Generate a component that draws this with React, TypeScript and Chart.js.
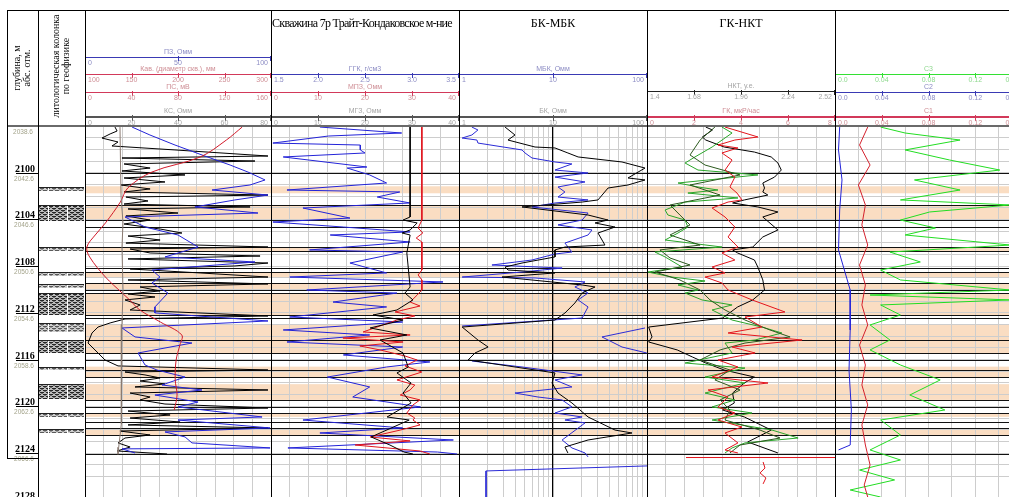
import React, { useEffect, useRef } from 'react';
import { Chart, registerables } from 'chart.js';

Chart.register(...registerables);

type Pt = [number, number] | null;

// depth window, metres
const depthTop = 2096;
const depthBottom = 2127.76;

// depth column labels
const depthMarks = [2100, 2104, 2108, 2112, 2116, 2120, 2124, 2128];
const absMarks = ['2042.6', '2046.6', '2050.6', '2054.6', '2058.6', '2062.6', '2066.6', '2070.6'];
const topAbsMark = '2038.6';

// reservoir (sand) intervals
const sandTop = [2101.16, 2102.76, 2106.36, 2108.5, 2109.44, 2110.3, 2112.95, 2116.6, 2118.1, 2120.57, 2121.85];
const sandBase = [2101.76, 2104.05, 2106.7, 2108.93, 2110.04, 2112.18, 2115.43, 2117.49, 2119.45, 2120.9, 2122.45];

// layer boundaries
const boundaryDepths = [2100.0, 2102.76, 2104.05, 2104.65, 2106.36, 2106.7, 2108.16, 2108.5, 2109.44, 2110.04, 2110.3, 2112.18, 2112.44, 2114.32, 2115.43, 2116.03, 2116.89, 2117.49, 2119.45, 2120.05, 2120.57, 2121.34, 2121.85, 2122.45, 2124.08];

// lithology column
const lithTop = [2101.2, 2102.8, 2106.4, 2108.5, 2109.5, 2110.3, 2112.9, 2114.3, 2116.6, 2118.1, 2120.6, 2121.9];
const lithBase = [2101.6, 2104.1, 2106.7, 2108.8, 2109.9, 2112.2, 2113.6, 2115.4, 2116.9, 2119.4, 2120.9, 2122.3];
const lithDense = [false, true, false, false, false, true, false, true, false, true, false, false];

// log grid of the resistivity track
const logGrid = [1, 2, 3, 4, 5, 6, 7, 8, 9, 10, 20, 30, 40, 50, 60, 70, 80, 90, 100];

// header scale labels
const pzTicks = ['0', '50', '100'];
const kavTicks = ['100', '150', '200', '250', '300'];
const psTicks = ['0', '40', '80', '120', '160'];
const kcTicks = ['0', '20', '40', '60', '80'];
const ggkTicks = ['1.5', '2.0', '2.5', '3.0', '3.5'];
const mpzTicks = ['0', '10', '20', '30', '40'];
const mgzTicks = ['0', '10', '20', '30', '40'];
const mbkTicks = ['1', '10', '100'];
const bkTicks = ['1', '10', '100'];
const nktTicks = ['1.4', '1.68', '1.96', '2.24', '2.52'];
const gkTicks = ['0', '2', '4', '6', '8'];
const cTicks = ['0.0', '0.04', '0.08', '0.12', '0.16'];

// ---- track 1 curves: [depth, value]
const t1Kav: Pt[] = [[2096.09, 269], [2097.2, 252], [2098.65, 224], [2099.94, 172], [2101.31, 146], [2102.51, 138], [2104.3, 122], [2105.33, 111], [2106.36, 102], [2107.21, 105], [2108.93, 122], [2110.3, 140], [2110.89, 148], [2111.75, 159], [2112.78, 181], [2113.89, 204], [2114.75, 202], [2116.03, 198], [2117.74, 197], [2119.03, 199], [2120.31, 196]];
const t1Ps: Pt[] = [[2096.09, 30.1], [2099.0, 30.5], [2102.0, 31.0], [2104.3, 32.7], [2106.4, 31.8], [2110.0, 32.7], [2113.0, 31.8], [2116.0, 31.0], [2119.0, 31.8], [2121.5, 31.0], [2123.5, 29.0], [2124.1, 28.4]];
const t1Kc: Pt[] = [[2096.09, 12.9], [2096.43, 13.8], [2096.68, 10.8], [2097.03, 7.3], [2097.37, 14.2], [2097.71, 11.6], [2098.05, 38.7], [2098.57, 78.7], [2098.74, 15.9], [2099.0, 73.1], [2099.25, 16.8], [2099.6, 28.0], [2099.85, 15.9], [2100.19, 43.0], [2100.45, 16.8], [2100.79, 34.4], [2101.05, 15.5], [2101.39, 28.0], [2101.65, 16.8], [2101.91, 78.7], [2102.08, 17.6], [2102.42, 27.1], [2102.68, 16.8], [2102.93, 71.0], [2103.1, 18.5], [2103.45, 40.0], [2103.7, 17.6], [2104.05, 28.0], [2104.39, 16.8], [2104.82, 32.3], [2105.16, 41.7], [2105.42, 18.5], [2105.76, 32.3], [2106.02, 17.6], [2106.36, 78.7], [2106.53, 19.4], [2106.87, 28.0], [2107.13, 75.3], [2107.38, 18.5], [2107.73, 78.7], [2107.98, 64.5], [2108.24, 19.4], [2108.58, 49.5], [2108.93, 78.7], [2109.18, 18.5], [2109.52, 78.7], [2109.78, 23.7], [2110.12, 32.3], [2110.38, 18.5], [2110.64, 30.1], [2110.89, 17.2], [2111.32, 23.7], [2111.75, 19.4], [2112.26, 78.7], [2112.52, 17.2], [2112.86, 10.8], [2113.21, 5.6], [2113.72, 3.0], [2114.58, 1.3], [2115.43, 5.6], [2116.03, 8.6], [2116.54, 14.2], [2116.89, 78.7], [2117.06, 17.2], [2117.31, 25.8], [2117.57, 32.3], [2117.83, 23.7], [2118.08, 34.4], [2118.34, 21.5], [2118.6, 78.7], [2118.86, 19.4], [2119.2, 28.0], [2119.45, 23.7], [2119.8, 34.4], [2120.14, 78.7], [2120.4, 18.5], [2120.74, 36.6], [2121.0, 19.4], [2121.34, 40.9], [2121.59, 18.5], [2121.85, 78.7], [2122.11, 15.0], [2122.45, 28.0], [2122.71, 17.2], [2123.13, 14.2], [2123.48, 19.4], [2123.82, 13.8], [2124.08, 35.3]];
const t1Pz: Pt[] = [[2096.09, 25.3], [2096.77, 34.9], [2097.63, 48.4], [2098.48, 62.9], [2099.34, 78.0], [2099.94, 87.6], [2100.62, 96.8], [2101.05, 88.7], [2101.48, 68.3], [2101.91, 98.4], [2102.33, 80.6], [2102.93, 59.1], [2103.45, 93.0], [2103.79, 21.5], [2104.65, 32.3], [2105.33, 50.0], [2106.36, 60.8], [2107.21, 43.0], [2107.64, 91.4], [2108.33, 36.0], [2108.93, 40.3], [2109.44, 36.0], [2110.3, 44.6], [2111.49, 37.6], [2112.0, 37.6], [2112.69, 98.4], [2113.29, 19.9], [2114.06, 26.9], [2114.58, 57.5], [2115.43, 28.5], [2116.46, 32.3], [2116.89, 38.7], [2117.49, 53.8], [2118.17, 41.4], [2118.6, 62.9], [2119.03, 37.6], [2119.63, 60.8], [2120.05, 50.0], [2120.91, 95.2], [2121.17, 50.0], [2121.85, 99.5], [2122.19, 43.0], [2122.62, 53.8], [2123.13, 57.5], [2123.56, 99.5], [2123.64, 19.9], [2123.99, 26.9]];

// ---- track 2 curves
const t2Ggk: Pt[] = [[2096.09, 2.02], [2096.6, 2.89], [2096.86, 2.11], [2097.46, 1.52], [2097.63, 2.45], [2098.05, 2.45], [2098.31, 2.5], [2098.65, 1.63], [2099.51, 2.52], [2099.6, 2.31], [2100.19, 2.55], [2100.88, 2.73], [2101.48, 1.67], [2101.65, 2.87], [2102.08, 2.63], [2102.59, 2.98], [2103.02, 1.84], [2103.88, 2.34], [2104.22, 1.52], [2104.65, 2.27], [2105.07, 2.98], [2105.33, 2.13], [2105.93, 2.98], [2106.61, 1.91], [2106.79, 2.9], [2107.73, 2.34], [2108.58, 2.73], [2108.93, 1.7], [2109.35, 3.33], [2110.04, 1.88], [2110.3, 2.84], [2111.07, 2.16], [2111.49, 2.73], [2112.35, 1.7], [2112.78, 2.9], [2113.46, 1.63], [2113.89, 2.55], [2114.49, 1.67], [2114.92, 2.9], [2115.6, 2.27], [2116.2, 3.19], [2116.63, 2.73], [2117.49, 2.1], [2118.34, 2.55], [2119.2, 2.37], [2120.05, 3.09], [2121.17, 1.84], [2121.85, 2.9], [2122.28, 2.02], [2122.88, 3.44], [2123.56, 1.68], [2123.91, 3.27], [2124.08, 3.48]];
const t2Mpz: Pt[] = [[2096.09, 32.1], [2104.05, 32.1], [2104.73, 31.3], [2105.16, 32.3], [2105.59, 30.9], [2105.93, 32.1], [2108.33, 32.1], [2108.75, 31.3], [2109.18, 32.1], [2110.04, 32.1], [2110.47, 31.1], [2111.07, 29.6], [2111.41, 31.7], [2111.92, 26.4], [2112.26, 30.6], [2112.61, 26.8], [2113.12, 23.2], [2113.63, 19.6], [2113.89, 29.6], [2114.15, 15.3], [2114.49, 28.1], [2114.83, 18.9], [2115.17, 23.2], [2115.69, 28.5], [2116.03, 31.1], [2116.54, 28.5], [2117.06, 32.1], [2117.74, 26.8], [2118.17, 30.6], [2118.6, 29.6], [2119.03, 27.5], [2119.45, 31.7], [2119.88, 30.2], [2120.57, 28.9], [2121.0, 30.6], [2121.17, 30.2], [2121.59, 31.7], [2122.03, 27.5], [2122.62, 21.1], [2122.96, 29.6], [2123.31, 17.9], [2123.56, 24.7], [2123.82, 31.7], [2124.08, 33.8]];
const t2Mgz: Pt[] = [[2096.09, 29.6], [2103.79, 29.6], [2104.05, 28.1], [2104.3, 31.1], [2104.9, 29.6], [2105.16, 27.9], [2105.33, 29.6], [2106.87, 28.9], [2109.78, 29.6], [2110.3, 28.5], [2110.89, 30.2], [2111.75, 26.8], [2112.18, 21.7], [2112.61, 28.1], [2113.29, 21.1], [2113.89, 28.9], [2114.32, 23.2], [2115.43, 28.1], [2116.63, 29.2], [2117.14, 26.8], [2118.0, 29.8], [2118.86, 28.1], [2119.71, 29.8], [2120.91, 24.7], [2121.17, 29.4], [2122.62, 21.3], [2123.31, 25.3], [2123.91, 28.3], [2124.08, 30.2]];

// ---- track 3 curves (log)
const t3Mbk: Pt[] = [[2096.09, 1.37], [2096.34, 1.59], [2096.77, 1.37], [2097.03, 1.08], [2097.2, 1.55], [2097.46, 1.59], [2098.05, 4.68], [2098.31, 5.04], [2098.74, 5.98], [2099.08, 10.5], [2099.25, 15.9], [2099.77, 10.5], [2100.02, 23.6], [2100.37, 10.5], [2100.79, 21.9], [2101.22, 11.3], [2101.65, 13.4], [2102.08, 11.3], [2102.33, 23.6], [2102.59, 10.5], [2102.93, 5.98], [2103.45, 23.6], [2104.05, 20.4], [2104.47, 11.3], [2104.9, 26.0], [2105.33, 23.6], [2106.02, 13.4], [2106.79, 15.9], [2106.96, 10.5], [2107.47, 5.98], [2107.9, 2.24], [2108.16, 12.5], [2108.5, 4.68], [2108.93, 1.08], [2109.01, 6.44], [2109.35, 21.9], [2109.78, 17.1], [2110.3, 23.6], [2110.89, 18.5], [2111.49, 23.6], [2112.44, 20.4], [2113.12, 1.08], null, [2113.29, 95.2], [2114.06, 33.2], [2114.92, 54.2], [2115.43, 99.5], null, [2116.12, 1.37], [2116.63, 4.68], [2117.31, 20.4], [2117.74, 10.5], [2118.34, 15.9], [2118.86, 3.94], [2119.2, 6.92], [2119.45, 12.5], [2120.05, 15.9], [2120.57, 10.5], [2120.91, 20.4], [2121.17, 13.4], [2121.42, 21.9], [2122.88, 12.5], [2123.56, 15.9], [2123.99, 21.9], [2124.33, 23.6], null, [2125.1, 100], [2125.53, 1.94], [2128.0, 1.94]];
const t3Bk: Pt[] = [[2096.09, 3.09], [2096.77, 3.94], [2097.2, 3.32], [2097.8, 6.44], [2097.88, 10.5], [2098.31, 14.4], [2098.65, 18.5], [2099.08, 54.2], [2099.6, 95.2], [2100.45, 62.8], [2100.62, 95.2], [2101.05, 62.8], [2101.31, 38.5], [2102.33, 30.1], [2102.51, 20.4], [2102.93, 4.68], [2103.62, 23.6], [2104.05, 38.5], [2104.3, 28.0], [2104.65, 45.7], [2105.16, 30.1], [2106.19, 35.7], [2106.36, 13.4], [2106.61, 10.5], [2107.21, 10.5], [2107.73, 4.68], [2108.07, 3.09], [2108.33, 3.32], [2108.58, 10.5], [2108.93, 2.87], [2109.61, 20.4], [2109.78, 28.0], [2110.3, 20.4], [2111.15, 17.1], [2112.01, 13.4], [2112.61, 10.5], [2113.21, 1.08], [2114.32, 1.59], [2114.92, 2.04], [2115.43, 1.48], [2116.03, 1.25], [2116.72, 4.68], [2117.14, 10.5], [2118.0, 9.76], [2118.86, 11.3], [2119.71, 15.9], [2120.91, 23.6], [2122.03, 45.7], [2122.28, 69.2], [2122.88, 23.6], [2123.48, 13.4], [2123.99, 14.4]];

// ---- track 4 curves
const t4Nkt: Pt[] = [[2096.09, 1.75], [2096.34, 1.79], [2096.94, 1.73], [2097.2, 1.75], [2097.8, 1.86], [2098.23, 2.04], [2098.65, 2.14], [2099.17, 2.18], [2099.77, 2.2], [2100.37, 2.16], [2100.88, 2.09], [2101.31, 2.1], [2101.65, 2.09], [2101.91, 2.12], [2102.33, 1.98], [2102.59, 1.91], [2102.93, 2.06], [2103.36, 2.18], [2103.79, 2.09], [2104.9, 2.18], [2105.5, 2.09], [2106.36, 2.03], [2106.61, 1.91], [2106.87, 1.94], [2107.47, 2.04], [2108.07, 2.06], [2109.18, 2.09], [2110.04, 2.1], [2110.89, 2.03], [2111.49, 1.94], [2112.44, 1.85], [2113.21, 1.41], [2114.06, 1.43], [2114.49, 1.41], [2115.17, 1.58], [2115.77, 1.67], [2116.29, 1.75], [2116.89, 1.86], [2117.49, 2.04], [2118.0, 1.98], [2118.86, 1.91], [2119.71, 1.92], [2120.31, 1.85], [2120.91, 1.98], [2122.03, 2.14], [2122.62, 2.06], [2123.05, 2.0], [2123.99, 2.18]];
const t4Gk: Pt[] = [[2096.09, 3.32], [2096.94, 4.72], [2097.2, 3.74], [2097.63, 3.02], [2097.88, 3.87], [2098.31, 3.19], [2098.91, 3.62], [2099.77, 3.32], [2100.37, 3.74], [2101.22, 3.53], [2101.74, 3.83], [2102.33, 4.04], [2102.51, 3.45], [2103.02, 2.77], [2103.79, 3.32], [2104.65, 3.74], [2105.5, 3.45], [2106.36, 3.87], [2106.87, 3.19], [2107.47, 3.74], [2108.07, 2.77], [2108.58, 3.32], [2108.93, 2.47], [2109.44, 3.19], [2110.04, 3.45], [2110.89, 4.47], [2111.92, 5.87], [2112.35, 4.17], [2113.21, 4.89], [2113.72, 3.45], [2114.32, 6.6], [2114.92, 3.62], [2115.43, 4.6], [2116.03, 3.02], [2116.63, 3.87], [2117.49, 2.77], [2118.0, 5.15], [2118.6, 2.6], [2119.2, 3.45], [2120.05, 3.02], [2120.57, 3.74], [2121.17, 3.02], [2121.77, 4.04], [2122.28, 3.32], [2123.13, 3.87], [2123.73, 3.32], [2123.99, 3.87], null, [2124.38, 1.66], [2124.38, 8.0], null, [2124.76, 4.94], [2125.28, 5.02], [2125.7, 4.81], [2126.13, 5.06], [2126.64, 4.94]];
const t4Ngk: Pt[] = [[2096.09, 3.19], [2096.6, 3.62], [2097.8, 2.77], [2098.65, 2.04], [2099.17, 1.62], [2099.77, 2.17], [2100.19, 4.72], [2100.88, 1.32], [2101.22, 2.17], [2101.48, 3.02], [2101.74, 1.74], [2102.16, 3.87], [2102.51, 1.62], [2103.19, 0.77], [2103.62, 0.89], [2104.05, 1.62], [2104.65, 1.74], [2105.16, 1.32], [2105.76, 0.77], [2106.36, 3.19], [2106.79, 0.34], [2107.21, 0.77], [2108.07, 1.49], [2108.5, 0.04], [2108.93, 1.06], [2109.27, 2.47], [2109.61, 1.32], [2110.04, 2.17], [2110.3, 1.62], [2110.89, 2.34], [2111.32, 3.62], [2111.75, 2.77], [2112.61, 3.62], [2113.21, 4.89], [2113.72, 5.74], [2114.32, 4.6], [2114.58, 3.32], [2115.43, 3.62], [2116.29, 1.62], [2116.72, 4.17], [2117.49, 2.47], [2118.0, 4.17], [2118.86, 2.47], [2119.45, 3.74], [2120.05, 2.77], [2120.57, 4.47], [2121.17, 2.77], [2122.03, 5.32], [2122.71, 6.43], [2123.13, 4.17], [2123.56, 3.62], [2123.99, 3.32]];
const t4Ngk2: Pt[] = [[2096.09, 2.89], [2097.2, 2.26], [2098.48, 1.83], [2099.34, 2.47], [2100.19, 3.96], [2101.05, 1.83], [2101.91, 3.11], [2102.76, 0.98], [2103.62, 1.4], [2104.47, 1.83], [2105.33, 0.98], [2106.19, 2.26], [2106.61, 0.55], [2107.3, 0.98], [2107.9, 1.83], [2108.5, 0.34], [2109.18, 1.4], [2110.04, 2.26], [2110.89, 2.68], [2111.75, 3.32], [2112.61, 4.17], [2113.46, 5.23], [2114.06, 6.09], [2114.58, 4.17], [2115.17, 3.11], [2116.03, 2.26], [2116.89, 3.53], [2117.74, 2.89], [2118.6, 3.96], [2119.45, 3.11], [2120.31, 3.53], [2121.17, 3.32], [2122.03, 4.81], [2122.71, 5.66], [2123.31, 3.96], [2123.99, 3.53]];

// ---- track 5 curves
const t5C3: Pt[] = [[2096.09, 0.039], [2096.6, 0.06], [2097.2, 0.107], [2098.05, 0.06], [2098.91, 0.098], [2099.77, 0.141], [2100.62, 0.068], [2101.48, 0.107], [2102.33, 0.056], [2102.76, 0.15], [2103.36, 0.081], [2104.05, 0.056], [2104.73, 0.086], [2105.33, 0.06], [2106.19, 0.15], [2106.79, 0.047], [2107.64, 0.073], [2108.33, 0.039], [2109.18, 0.056], [2110.04, 0.15], [2110.47, 0.03], [2110.89, 0.15], [2111.32, 0.039], [2112.18, 0.056], [2113.03, 0.03], [2114.32, 0.047], [2115.17, 0.03], [2116.46, 0.056], [2117.74, 0.09], [2119.03, 0.064], [2120.31, 0.094], [2121.17, 0.039], [2122.45, 0.056], [2123.73, 0.03], [2124.59, 0.056], [2125.45, 0.021], [2126.3, 0.051], [2127.16, 0.013], [2127.76, 0.039]];
const t5C2: Pt[] = [[2096.09, 0.004], [2098.05, 0.003], [2100.62, 0.006], [2103.19, 0.004], [2106.61, 0.003], [2110.04, 0.013], [2113.46, 0.013], [2116.89, 0.012], [2120.31, 0.014], [2123.31, 0.013], [2123.73, 0.003]];
const t5C1: Pt[] = [[2096.09, 0.028], [2097.63, 0.021], [2099.34, 0.03], [2101.05, 0.02], [2102.76, 0.026], [2104.47, 0.023], [2106.19, 0.028], [2107.9, 0.021], [2109.61, 0.026], [2111.32, 0.023], [2113.03, 0.028], [2114.75, 0.021], [2116.46, 0.026], [2118.17, 0.023], [2119.88, 0.028], [2121.59, 0.023], [2123.31, 0.026], [2125.02, 0.03], [2126.73, 0.025], [2127.76, 0.028]];

// ---------------------------------------------------------------------------

const SERIF = '"Liberation Serif", "Times New Roman", serif';
const SANS = '"Liberation Sans", Arial, sans-serif';
const PLOT_TOP = 126;
const PLOT_H = 371;
const SAND = 'rgb(250, 221, 194)';
const GRID = '#cdcdcd';
const BLUE = '#2323d8';
const RED = '#e0141e';
const BLACK = '#000000';

type AxisDef = { id: string; log?: boolean; min: number; max: number };
type CurveDef = { data: Pt[]; color: string; axis: string; width?: number; tension?: number };
type RowDef = { y: number; line: string; caption: string; text: string; ticks: string[]; thick?: number };
type TrackDef = {
  left: number; width: number; log?: boolean; divisions: number;
  axes: AxisDef[]; curves: CurveDef[]; rows: RowDef[]; title?: string; titleAlign?: 'left' | 'center';
};

const zonePlugin = {
  id: 'zones',
  beforeDraw(chart: any) {
    const { ctx, chartArea, scales } = chart;
    const y = scales.y;
    ctx.save();
    ctx.fillStyle = SAND;
    sandTop.forEach((t, i) => {
      const y0 = y.getPixelForValue(t);
      const y1 = y.getPixelForValue(sandBase[i]);
      ctx.fillRect(chartArea.left, y0, chartArea.right - chartArea.left, y1 - y0);
    });
    ctx.restore();
  },
  beforeDatasetsDraw(chart: any) {
    const { ctx, chartArea, scales } = chart;
    const y = scales.y;
    ctx.save();
    ctx.strokeStyle = '#111';
    ctx.lineWidth = 1.2;
    boundaryDepths.forEach((d) => {
      const py = Math.round(y.getPixelForValue(d)) + 0.5;
      ctx.beginPath();
      ctx.moveTo(chartArea.left, py);
      ctx.lineTo(chartArea.right, py);
      ctx.stroke();
    });
    ctx.restore();
  },
};

function depthScale() {
  return {
    type: 'linear',
    reverse: true,
    min: depthTop,
    max: depthBottom,
    ticks: { display: false, stepSize: 1 },
    afterBuildTicks: (s: any) => {
      s.ticks = s.ticks.filter((t: any) => Number.isInteger(t.value));
    },
    border: { display: false },
    grid: { color: GRID, lineWidth: 1, drawTicks: false },
    afterFit: (s: any) => {
      s.width = 0;
    },
  };
}

function TrackPlot({ def }: { def: TrackDef }) {
  const ref = useRef<HTMLCanvasElement | null>(null);
  useEffect(() => {
    const canvas = ref.current;
    if (!canvas) return;
    const scales: any = { y: depthScale() };
    scales.g = def.log
      ? {
          type: 'logarithmic', axis: 'x', position: 'top', min: 1, max: 100,
          afterBuildTicks: (s: any) => {
            s.ticks = logGrid.map((v) => ({ value: v }));
          },
          ticks: { display: false },
          border: { display: false },
          grid: {
            drawTicks: false,
            color: (c: any) => (c.tick && c.tick.value === 10 ? '#000' : GRID),
            lineWidth: (c: any) => (c.tick && c.tick.value === 10 ? 1.3 : 1),
          },
          afterFit: (s: any) => {
            s.height = 0;
          },
        }
      : {
          type: 'linear', axis: 'x', position: 'top', min: 0, max: def.divisions,
          ticks: { display: false, stepSize: 1 },
          border: { display: false },
          grid: { drawTicks: false, color: GRID, lineWidth: 1 },
          afterFit: (s: any) => {
            s.height = 0;
          },
        };
    def.axes.forEach((a) => {
      scales[a.id] = { type: a.log ? 'logarithmic' : 'linear', axis: 'x', position: 'top', min: a.min, max: a.max, display: false };
    });
    const chart = new Chart(canvas, {
      type: 'scatter',
      data: {
        datasets: def.curves.map((c) => ({
          data: c.data.map((p) => (p ? { x: p[1], y: p[0] } : { x: null, y: null })),
          xAxisID: c.axis,
          yAxisID: 'y',
          showLine: true,
          spanGaps: false,
          borderColor: c.color,
          backgroundColor: c.color,
          borderWidth: c.width ?? 1,
          pointRadius: 0,
          tension: c.tension ?? 0,
          fill: false,
        })),
      } as any,
      options: {
        responsive: false,
        animation: false,
        devicePixelRatio: 1,
        events: [],
        layout: { padding: 0 },
        plugins: { legend: { display: false }, tooltip: { enabled: false } },
        scales,
      } as any,
      plugins: [zonePlugin],
    });
    return () => chart.destroy();
  }, [def]);
  return (
    <canvas
      ref={ref}
      width={def.width}
      height={PLOT_H}
      style={{ position: 'absolute', left: def.left, top: PLOT_TOP, display: 'block' }}
    />
  );
}

let patternCache: Record<string, CanvasPattern | null> = {};
function lithPattern(ctx: CanvasRenderingContext2D, dense: boolean) {
  const key = dense ? 'd' : 'l';
  if (patternCache[key]) return patternCache[key];
  const c = document.createElement('canvas');
  c.width = 6;
  c.height = 4;
  const p = c.getContext('2d')!;
  p.fillStyle = dense ? '#bdbdbd' : '#cfcfcf';
  p.fillRect(0, 0, 6, 4);
  p.fillStyle = dense ? '#262626' : '#5a5a5a';
  p.fillRect(0, 0, 4, 1);
  p.fillRect(3, 2, 3, 1);
  p.fillRect(0, 2, 1, 1);
  p.fillStyle = dense ? '#6e6e6e' : '#9a9a9a';
  p.fillRect(1, 1, 2, 1);
  p.fillRect(4, 3, 2, 1);
  const pat = ctx.createPattern(c, 'repeat');
  patternCache[key] = pat;
  return pat;
}

const depthColumnPlugin = {
  id: 'depthColumn',
  afterDraw(chart: any) {
    const { ctx, scales } = chart;
    const y = scales.y;
    ctx.save();
    // lithology blocks
    lithTop.forEach((t, i) => {
      const y0 = Math.round(y.getPixelForValue(t));
      const y1 = Math.round(y.getPixelForValue(lithBase[i]));
      ctx.fillStyle = lithPattern(ctx, lithDense[i]) as any;
      ctx.fillRect(32, y0, 45, Math.max(2, y1 - y0));
      ctx.fillStyle = '#fff';
      ctx.fillRect(41, y0, 1, Math.max(2, y1 - y0));
      ctx.fillRect(60, y0, 1, Math.max(2, y1 - y0));
      ctx.fillStyle = '#222';
      ctx.fillRect(32, y0, 45, 1);
    });
    // depth labels
    ctx.textAlign = 'center';
    ctx.fillStyle = '#a3a38a';
    ctx.font = '6.5px ' + SANS;
    ctx.textBaseline = 'top';
    ctx.fillText(topAbsMark, 16, y.getPixelForValue(depthTop) + 3);
    depthMarks.forEach((d, i) => {
      const py = Math.round(y.getPixelForValue(d)) + 0.5;
      ctx.strokeStyle = '#000';
      ctx.lineWidth = 1;
      ctx.beginPath();
      ctx.moveTo(9, py);
      ctx.lineTo(31, py);
      ctx.stroke();
      ctx.fillStyle = '#000';
      ctx.font = 'bold 10px ' + SERIF;
      ctx.textBaseline = 'alphabetic';
      ctx.fillText(String(d), 18, py - 2);
      ctx.fillStyle = '#a3a38a';
      ctx.font = '6.5px ' + SANS;
      ctx.textBaseline = 'top';
      ctx.fillText(absMarks[i], 17, py + 2);
    });
    ctx.restore();
  },
};

function DepthColumn() {
  const ref = useRef<HTMLCanvasElement | null>(null);
  useEffect(() => {
    const canvas = ref.current;
    if (!canvas) return;
    const chart = new Chart(canvas, {
      type: 'scatter',
      data: { datasets: [] },
      options: {
        responsive: false,
        animation: false,
        devicePixelRatio: 1,
        events: [],
        layout: { padding: 0 },
        plugins: { legend: { display: false }, tooltip: { enabled: false } },
        scales: {
          x: { type: 'linear', min: 0, max: 1, display: false },
          y: { type: 'linear', reverse: true, min: depthTop, max: depthBottom, display: false },
        },
      } as any,
      plugins: [depthColumnPlugin],
    });
    return () => chart.destroy();
  }, []);
  return <canvas ref={ref} width={78} height={PLOT_H} style={{ position: 'absolute', left: 7, top: PLOT_TOP, display: 'block' }} />;
}

const TRACKS: TrackDef[] = [
  {
    left: 85, width: 186, divisions: 10,
    axes: [
      { id: 'pz', min: 0, max: 100 },
      { id: 'kav', min: 100, max: 300 },
      { id: 'ps', min: 0, max: 160 },
      { id: 'kc', min: 0, max: 80 },
    ],
    curves: [
      { data: t1Ps, color: '#8b7b72', axis: 'ps' },
      { data: t1Kav, color: '#d21a2a', axis: 'kav', tension: 0.35 },
      { data: t1Pz, color: BLUE, axis: 'pz' },
      { data: t1Kc, color: BLACK, axis: 'kc' },
    ],
    rows: [
      { y: 57, line: '#3a3ab4', caption: 'ПЗ, Омм', text: '#8c8cc4', ticks: pzTicks },
      { y: 74, line: '#d2395a', caption: 'Кав. (диаметр скв.), мм', text: '#cf8f96', ticks: kavTicks },
      { y: 92, line: '#d2395a', caption: 'ПС, мВ', text: '#cf8f96', ticks: psTicks },
      { y: 116, line: '#555', caption: 'КС, Омм', text: '#a5a5a5', ticks: kcTicks, thick: 2 },
    ],
  },
  {
    left: 271, width: 188, divisions: 10,
    title: 'Скважина 7р Трайт-Кондаковское м-ние', titleAlign: 'left',
    axes: [
      { id: 'ggk', min: 1.5, max: 3.5 },
      { id: 'mpz', min: 0, max: 40 },
      { id: 'mgz', min: 0, max: 40 },
    ],
    curves: [
      { data: t2Mgz, color: BLACK, axis: 'mgz' },
      { data: t2Mpz, color: RED, axis: 'mpz' },
      { data: t2Ggk, color: BLUE, axis: 'ggk' },
    ],
    rows: [
      { y: 74, line: '#3a3ab4', caption: 'ГГК, г/см3', text: '#8c8cc4', ticks: ggkTicks },
      { y: 92, line: '#d2395a', caption: 'МПЗ, Омм', text: '#cf8f96', ticks: mpzTicks },
      { y: 116, line: '#555', caption: 'МГЗ, Омм', text: '#a5a5a5', ticks: mgzTicks, thick: 2 },
    ],
  },
  {
    left: 459, width: 188, divisions: 10, log: true,
    title: 'БК-МБК', titleAlign: 'center',
    axes: [
      { id: 'mbk', log: true, min: 1, max: 100 },
      { id: 'bk', log: true, min: 1, max: 100 },
    ],
    curves: [
      { data: t3Bk, color: BLACK, axis: 'bk' },
      { data: t3Mbk, color: '#2b2bd6', axis: 'mbk' },
    ],
    rows: [
      { y: 74, line: '#3a3ab4', caption: 'МБК, Омм', text: '#8c8cc4', ticks: mbkTicks },
      { y: 116, line: '#555', caption: 'БК, Омм', text: '#a5a5a5', ticks: bkTicks, thick: 2 },
    ],
  },
  {
    left: 647, width: 188, divisions: 10,
    title: 'ГК-НКТ', titleAlign: 'center',
    axes: [
      { id: 'nkt', min: 1.4, max: 2.52 },
      { id: 'gk', min: 0, max: 8 },
    ],
    curves: [
      { data: t4Gk, color: '#e3141c', axis: 'gk' },
      { data: t4Ngk2, color: '#2c5a1e', axis: 'gk' },
      { data: t4Ngk, color: '#2aa62a', axis: 'gk' },
      { data: t4Nkt, color: BLACK, axis: 'nkt' },
    ],
    rows: [
      { y: 91, line: '#222', caption: 'НКТ, у.е.', text: '#a5a5a5', ticks: nktTicks },
      { y: 116, line: '#d2395a', caption: 'ГК, мкР/час', text: '#cf8f96', ticks: gkTicks, thick: 2 },
    ],
  },
  {
    left: 835, width: 187, divisions: 8,
    axes: [{ id: 'c', min: 0, max: 0.16 }],
    curves: [
      { data: t5C1, color: '#d4202c', axis: 'c' },
      { data: t5C2, color: '#2323d8', axis: 'c' },
      { data: t5C3, color: '#22dd22', axis: 'c' },
    ],
    rows: [
      { y: 74, line: '#33e033', caption: 'С3', text: '#8fd88f', ticks: cTicks },
      { y: 92, line: '#3a3ab4', caption: 'С2', text: '#8c8cc4', ticks: cTicks },
      { y: 116, line: '#d2395a', caption: 'С1', text: '#cf8f96', ticks: cTicks, thick: 2 },
    ],
  },
];

function Header({ def }: { def: TrackDef }) {
  const items: React.ReactNode[] = [];
  def.rows.forEach((r, ri) => {
    const th = r.thick ?? 1;
    items.push(
      <div key={'l' + ri} style={{ position: 'absolute', left: def.left, top: r.y, width: def.width, height: th, background: r.line }} />
    );
    items.push(
      <div key={'c' + ri} style={{ position: 'absolute', left: def.left, top: r.y - 9, width: def.width, textAlign: 'center', font: '7px ' + SANS, color: r.text, lineHeight: '8px', whiteSpace: 'nowrap' }}>
        {r.caption}
      </div>
    );
    const n = r.ticks.length;
    r.ticks.forEach((t, i) => {
      const x = def.left + (def.width * i) / (n - 1);
      items.push(
        <div key={'m' + ri + '_' + i} style={{ position: 'absolute', left: Math.round(x) - (i === n - 1 ? 1 : 0), top: r.y - 1, width: 1, height: 4 + th, background: r.line }} />
      );
      const align = i === 0 ? 'left' : i === n - 1 ? 'right' : 'center';
      const boxW = 40;
      const bx = i === 0 ? def.left + 3 : i === n - 1 ? def.left + def.width - 3 - boxW : x - boxW / 2;
      items.push(
        <div key={'t' + ri + '_' + i} style={{ position: 'absolute', left: bx, top: r.y + th + 1, width: boxW, textAlign: align as any, font: '7px ' + SANS, color: r.text, lineHeight: '8px', whiteSpace: 'nowrap' }}>
          {t}
        </div>
      );
    });
  });
  if (def.title) {
    items.push(
      <div key="title" style={{ position: 'absolute', left: def.titleAlign === 'left' ? def.left + 1 : def.left, top: 16, width: def.titleAlign === 'left' ? 200 : def.width, textAlign: def.titleAlign === 'left' ? 'left' : 'center', font: '12px ' + SERIF, color: '#000', whiteSpace: 'nowrap', letterSpacing: def.titleAlign === 'left' ? '-0.72px' : '0px' }}>
        {def.title}
      </div>
    );
  }
  return <>{items}</>;
}

function VLine({ x, y0, y1, w = 1, color = '#000' }: { x: number; y0: number; y1: number; w?: number; color?: string }) {
  return <div style={{ position: 'absolute', left: x, top: y0, width: w, height: y1 - y0, background: color }} />;
}
function HLine({ y, x0, x1, h = 1, color = '#000' }: { y: number; x0: number; x1: number; h?: number; color?: string }) {
  return <div style={{ position: 'absolute', left: x0, top: y, width: x1 - x0, height: h, background: color }} />;
}

export default function App() {
  return (
    <div style={{ position: 'absolute', left: 0, top: 0, width: 1009, height: 497, overflow: 'hidden', background: '#fff', fontFamily: SERIF }}>
      <DepthColumn />
      {TRACKS.map((t, i) => (
        <TrackPlot key={i} def={t} />
      ))}
      {TRACKS.map((t, i) => (
        <Header key={'h' + i} def={t} />
      ))}
      {/* frame */}
      <HLine y={10} x0={7} x1={1009} />
      <HLine y={125} x0={7} x1={1009} h={2} color="#6a6a6a" />
      <HLine y={458} x0={7} x1={38} />
      <VLine x={7} y0={10} y1={459} />
      <VLine x={38} y0={10} y1={497} />
      {[85, 271, 459, 647, 835].map((x) => (
        <VLine key={x} x={x} y0={10} y1={497} />
      ))}
      {/* left column captions */}
      <div style={{ position: 'absolute', left: 22, top: 68, transform: 'translate(-50%, -50%) rotate(-90deg)', font: '10px ' + SERIF, textAlign: 'center', lineHeight: '10px', whiteSpace: 'nowrap' }}>
        глубина, м
        <br />
        абс. отм.
      </div>
      <div style={{ position: 'absolute', left: 61, top: 66, transform: 'translate(-50%, -50%) rotate(-90deg)', font: '10px ' + SERIF, textAlign: 'center', lineHeight: '10px', whiteSpace: 'nowrap' }}>
        литологическая колонка
        <br />
        по геофизике
      </div>
    </div>
  );
}
